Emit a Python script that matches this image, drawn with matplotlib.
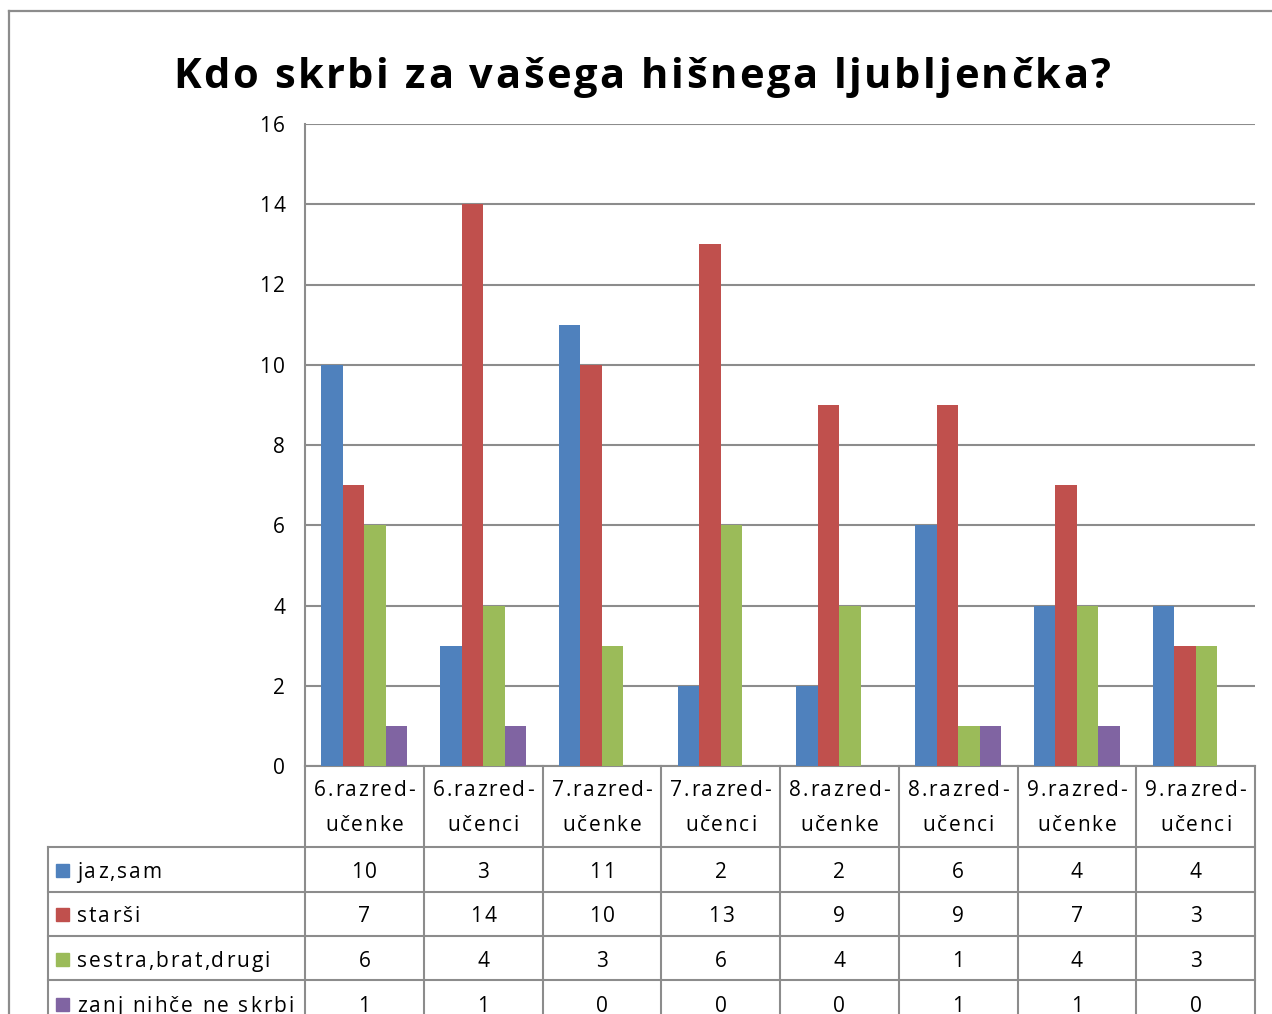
import numpy as np
import matplotlib.pyplot as plt
from matplotlib.lines import Line2D
from matplotlib.patches import Rectangle
from matplotlib import font_manager
from matplotlib.ft2font import FT2Font

# data
categories = ["6.razred-\nučenke", "6.razred-\nučenci", "7.razred-\nučenke", "7.razred-\nučenci",
              "8.razred-\nučenke", "8.razred-\nučenci", "9.razred-\nučenke", "9.razred-\nučenci"]
series_names = ["jaz,sam", "starši", "sestra,brat,drugi", "zanj nihče ne skrbi"]
jaz_sam = [10, 3, 11, 2, 2, 6, 4, 4]
starsi = [7, 14, 10, 13, 9, 9, 7, 3]
sestra_brat = [6, 4, 3, 6, 4, 1, 4, 3]
nihce = [1, 1, 0, 0, 0, 1, 1, 0]
series = [jaz_sam, starsi, sestra_brat, nihce]
colors = ["#4F81BD", "#C0504D", "#9BBB59", "#8064A2"]
yticks = list(range(0, 17, 2))

W, H = 1272, 1014
FAMILY = 'Open Sans'
plt.rcParams['font.family'] = [FAMILY, 'DejaVu Sans']
fig = plt.figure(figsize=(W / 100, H / 100), dpi=100)
grey = "#8C8C8C"

def fx(px):
    return px / W

def fy(py):
    return 1 - py / H

_fonts = {}
def advances(s, size, weight):
    # per-character advance widths in pixels at 100 dpi
    key = (size, weight)
    if key not in _fonts:
        path = font_manager.findfont(font_manager.FontProperties(family=FAMILY, weight=weight))
        f = FT2Font(path)
        f.set_size(size, 100)
        _fonts[key] = f
    f = _fonts[key]
    return [f.load_char(ord(c)).linearHoriAdvance / 65536 for c in s]

def spaced_text(x, y, s, size=15, weight='normal', track=0.0, ha='left', va='baseline'):
    # draw text with extra letter spacing (like the Excel export)
    adv = advances(s, size, weight)
    total = sum(adv) + track * (len(s) - 1)
    if ha == 'center':
        pos = x - total / 2
    elif ha == 'right':
        pos = x - total
    else:
        pos = x
    for c, a in zip(s, adv):
        if c != ' ':
            fig.text(fx(pos), fy(y), c, ha='left', va=va, fontsize=size, fontweight=weight)
        pos += a + track

# outer chart border (cropped on right / bottom)
fig.add_artist(Line2D([fx(9), fx(9)], [fy(11), fy(H + 5)], color=grey, lw=1.6))
fig.add_artist(Line2D([fx(9), fx(W + 5)], [fy(11), fy(11)], color=grey, lw=1.6))

spaced_text(642, 88, "Kdo skrbi za vašega hišnega ljubljenčka?", size=30, weight='bold',
            track=2.6, ha='center')

# plot area
left, right, top, bottom = 305, 1255, 124, 766
ax = fig.add_axes([fx(left), fy(bottom), fx(right - left), (bottom - top) / H])
n = len(categories)
x = np.arange(n)
bw = 0.181
for i, (vals, c) in enumerate(zip(series, colors)):
    ax.bar(x + (i - 1.5) * bw, vals, width=bw, color=c, zorder=3)
ax.set_xlim(-0.5, n - 0.5)
ax.set_ylim(yticks[0], yticks[-1])
ax.set_yticks(yticks)
ax.set_yticklabels([])
ax.tick_params(axis='y', length=0)
ax.set_xticks([])
ax.grid(axis='y', color=grey, lw=1.5, zorder=0)
for s in ['top', 'right']:
    ax.spines[s].set_visible(False)
for s in ['left', 'bottom']:
    ax.spines[s].set_color(grey)
    ax.spines[s].set_linewidth(1.5)

# y tick labels, letter-spaced like the rest of the text
for t in yticks:
    ty = H - ax.transData.transform((0, t))[1]
    spaced_text(285, ty + 8, str(t), track=2.0, ha='right')

# data table
col_w = (right - left) / n
row_lines = [847, 892, 936, 980]
table_left = 48
for ry in row_lines:
    fig.add_artist(Line2D([fx(table_left), fx(right)], [fy(ry), fy(ry)], color=grey, lw=1.5))
for k in range(n + 1):
    cx = left + k * col_w
    fig.add_artist(Line2D([fx(cx), fx(cx)], [fy(bottom), fy(H + 5)], color=grey, lw=1.5))
fig.add_artist(Line2D([fx(table_left), fx(table_left)], [fy(847), fy(H + 5)], color=grey, lw=1.5))

for k, cat in enumerate(categories):
    cx = left + (k + 0.5) * col_w
    l1, l2 = cat.split("\n")
    spaced_text(cx, 796, l1, track=1.7, ha='center')
    spaced_text(cx, 831, l2, track=1.7, ha='center')

row_base = [878, 922, 967, 1012]
for r, (name, vals, c) in enumerate(zip(series_names, series, colors)):
    y = row_base[r]
    fig.add_artist(Rectangle((fx(56), fy(y - 1)), 13 / W, 13 / H, color=c))
    spaced_text(77, y, name, track=2.0)
    for k, v in enumerate(vals):
        cx = left + (k + 0.5) * col_w
        spaced_text(cx, y, str(v), track=2.0, ha='center')

fig.savefig("out.png", dpi=100)
